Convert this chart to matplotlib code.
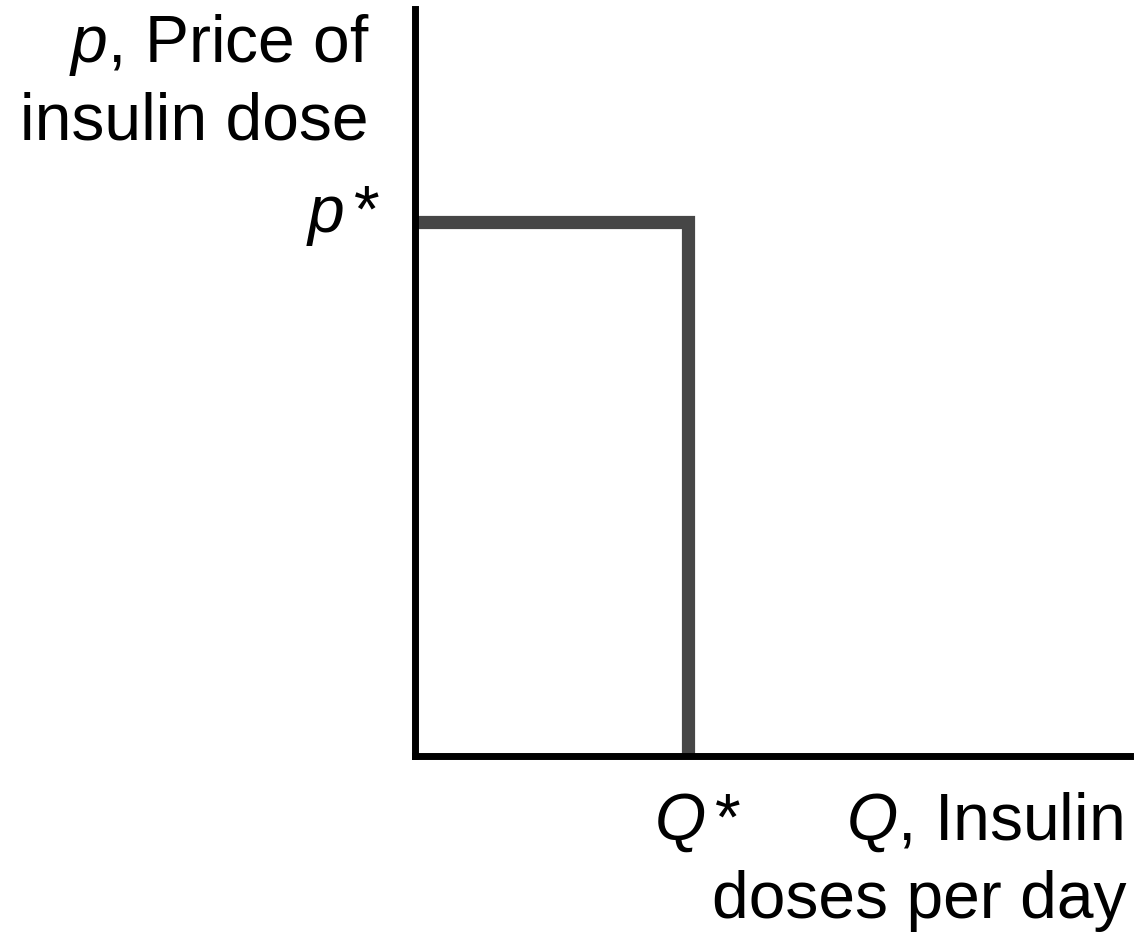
import matplotlib
matplotlib.use("Agg")
from matplotlib import pyplot as plt

# demand for insulin: flat at p* up to Q*, then vertical
q_star = 3.82
p_star = 7.15
demand_q = [0, q_star, q_star]
demand_p = [p_star, p_star, 0]

y_label = ["$p$, Price of", "insulin dose"]
x_label = ["$Q$, Insulin", "doses per day"]

plt.rcParams['font.family'] = 'Liberation Sans'
plt.rcParams['mathtext.fontset'] = 'custom'
plt.rcParams['mathtext.it'] = 'Liberation Sans:italic'
plt.rcParams['mathtext.rm'] = 'Liberation Sans'

fig = plt.figure(figsize=(11.36, 9.33), dpi=100)
ax = fig.add_axes([415/1136, 1 - 756/933, 715/1136, 747/933])
ax.set_xlim(0, 10)
ax.set_ylim(0, 10)

ax.plot(demand_q, demand_p, color='#464646', lw=9.5, solid_joinstyle='miter',
        solid_capstyle='butt')

for s in ['top', 'right']:
    ax.spines[s].set_visible(False)
for s in ['left', 'bottom']:
    ax.spines[s].set_linewidth(5)
    ax.spines[s].set_color('black')
ax.set_xticks([])
ax.set_yticks([])

fs = 47.5
ax.annotate(r"$p\,$*", xy=(0, p_star), xytext=(-35, -10), textcoords='offset pixels',
            ha='right', va='baseline', fontsize=fs)
ax.annotate(r"$Q\,$*", xy=(q_star, 0), xytext=(9, -84), textcoords='offset pixels',
            ha='center', va='baseline', fontsize=fs)

ax.annotate(y_label[0], xy=(0, 1), xycoords='axes fraction', xytext=(-45, -53),
            textcoords='offset pixels', ha='right', va='baseline', fontsize=fs)
ax.annotate(y_label[1], xy=(0, 1), xycoords='axes fraction', xytext=(-47, -131),
            textcoords='offset pixels', ha='right', va='baseline', fontsize=fs)
ax.annotate(x_label[0], xy=(1, 0), xycoords='axes fraction', xytext=(-7, -84),
            textcoords='offset pixels', ha='right', va='baseline', fontsize=fs)
ax.annotate(x_label[1], xy=(1, 0), xycoords='axes fraction', xytext=(-3, -162),
            textcoords='offset pixels', ha='right', va='baseline', fontsize=fs)

plt.savefig("out.png", dpi=100)
